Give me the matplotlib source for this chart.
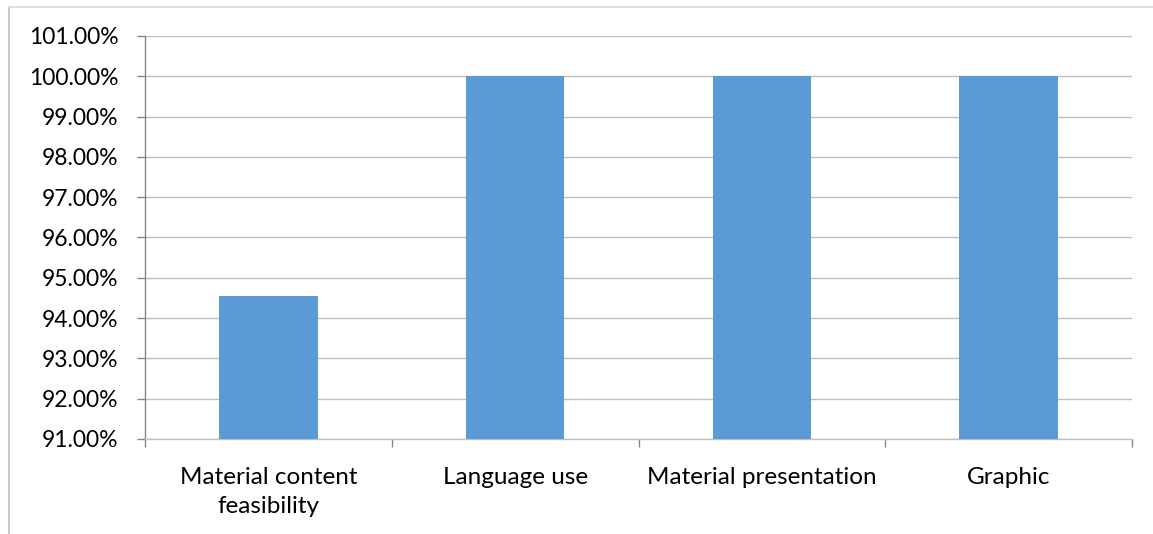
import matplotlib
matplotlib.use("Agg")
import matplotlib.pyplot as plt
from matplotlib.ticker import FuncFormatter, FixedLocator, MultipleLocator
from matplotlib.lines import Line2D

categories = ["Material content\nfeasibility", "Language use", "Material presentation", "Graphic"]
values = [94.55, 100.0, 100.0, 100.0]
y_min, y_max, y_step = 91.0, 101.0, 1.0

plt.rcParams['font.family'] = ['Lato', 'DejaVu Sans']

fig = plt.figure(figsize=(11.53, 5.34), dpi=100)
ax = fig.add_axes([145/1153, 1-439/534, (1132-145)/1153, (439-36)/534])

x = list(range(len(categories)))
ax.bar(x, values, width=0.4, color="#5B9BD5", bottom=0, zorder=3)
ax.set_xlim(-0.5, len(categories)-0.5)
ax.set_ylim(y_min, y_max)
ax.yaxis.set_major_locator(MultipleLocator(y_step))
ax.yaxis.set_major_formatter(FuncFormatter(lambda v, p: f"{v:.2f}%"))
ax.grid(axis="y", color="#BFBFBF", linewidth=1.0, zorder=0)

ax.set_xticks(x)
ax.set_xticklabels(categories, fontsize=17.5, color="#000000", linespacing=1.5)
ax.xaxis.set_minor_locator(FixedLocator([i + 0.5 for i in range(-1, len(categories))]))
ax.tick_params(axis="x", which="major", length=0, pad=20)
ax.tick_params(axis="x", which="minor", length=6, color="#868686", width=1)
ax.tick_params(axis="y", length=6, color="#868686", width=1, labelsize=16.5, pad=13, labelcolor="#000000")

for s in ["top", "right"]:
    ax.spines[s].set_visible(False)
ax.spines["left"].set_color("#868686")
ax.spines["bottom"].set_color("#BFBFBF")
ax.spines["left"].set_linewidth(1)
ax.spines["bottom"].set_linewidth(1)

# outer chart frame (left and top visible)
fig.add_artist(Line2D([9/1153, 9/1153], [0, 1-7/534], color="#BFBFBF", lw=1.2, transform=fig.transFigure))
fig.add_artist(Line2D([9/1153, 1], [1-7/534, 1-7/534], color="#D9D9D9", lw=1.2, transform=fig.transFigure))

fig.savefig("out.png", dpi=100)
